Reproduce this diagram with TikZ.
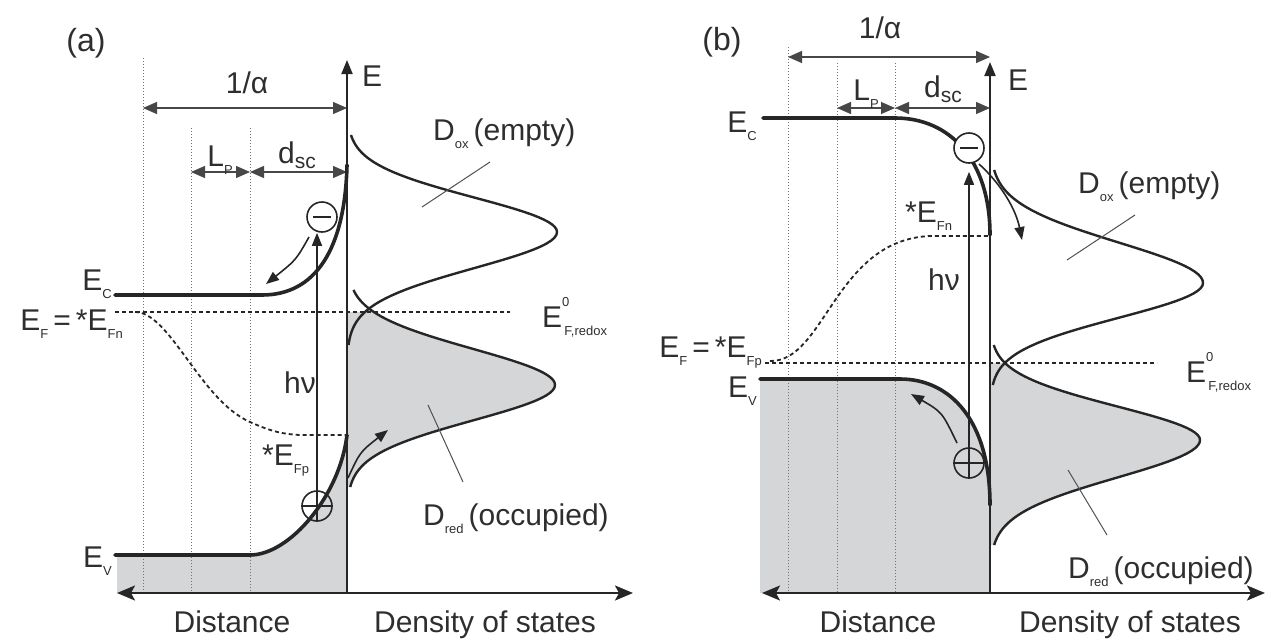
\documentclass[tikz,border=0pt]{standalone}
\usepackage{fontspec}
\setmainfont{Liberation Sans}
\usetikzlibrary{arrows.meta}
\definecolor{ink}{HTML}{262626}
\definecolor{txt}{HTML}{2E2E2E}
\definecolor{dosgray}{HTML}{D4D6D8}
\newcommand\lsub[1]{\raisebox{-0.55ex}{\fontsize{13}{13}\selectfont #1}}
\newcommand\lsup[1]{\raisebox{1.3ex}{\fontsize{13}{13}\selectfont #1}}
\tikzset{
  band/.style={line width=3.6pt, draw=ink, line cap=round},
  dos/.style={line width=2.4pt, draw=ink},
  eaxis/.style={line width=2pt, draw=ink, -{Triangle[length=14pt,width=11pt]}},
  haxis/.style={line width=2.2pt, draw=ink, {Stealth[length=18pt,width=15pt,inset=4pt]}-{Stealth[length=18pt,width=15pt,inset=4pt]}},
  dimarrow/.style={line width=1.3pt, draw=ink!85, {Triangle[length=14pt,width=12pt]}-{Triangle[length=14pt,width=12pt]}},
  guide/.style={line width=1pt, draw=ink!65, dotted},
  fermi/.style={line width=1.8pt, draw=ink, dash pattern=on 4pt off 3pt},
  lbl/.style={inner sep=0, font=\fontsize{30}{36}\selectfont, text=txt},
  charge/.style={circle, draw=ink, line width=1.6pt, minimum size=30pt, inner sep=0},
  move/.style={line width=1.6pt, draw=ink, -{Triangle[length=13pt,width=10pt]}},
  leader/.style={line width=1pt, draw=ink!80},
}
\begin{document}
\begin{tikzpicture}[x=1pt,y=-1pt]
\useasboundingbox (0,0) rectangle (1271,640);

% ================= Panel (a) =================
% shaded regions
\fill[dosgray] (117,555) -- (250,555) .. controls (290,555) and (340,495) .. (347,435) -- (347,593) -- (117,593) -- cycle;
\fill[dosgray] (347,312) -- plot[domain=312:385, samples=40, variable=\t] ({347+208*exp(-(((\t-385)/51)^2))}, \t)
  -- plot[domain=385:487, samples=40, variable=\t] ({347+208*exp(-(((\t-385)/50)^2))}, \t) -- (347,487) -- cycle;

% dotted guides
\draw[guide] (143,58) -- (143,593);
\draw[guide] (191,128) -- (191,593);
\draw[guide] (250,128) -- (250,593);

% dimension arrows
\coordinate (a-g1) at (143,108); \coordinate (a-g1e) at (347,108);
\coordinate (a-g2) at (191,172); \coordinate (a-g3) at (250,172); \coordinate (a-g4) at (347,172);
\draw[dimarrow] (a-g1) -- (a-g1e);
\draw[dimarrow] (a-g2) -- (a-g3);
\draw[dimarrow] (a-g3) -- (a-g4);

% Fermi levels
\draw[fermi] (115,312) -- (510,312);
\draw[fermi] (135,312) .. controls (170,312) and (200,400) .. (250,422) .. controls (268,430) and (280,434) .. (300,435) -- (347,435);

% axes
\coordinate (a-o) at (347,593);
\coordinate (a-l) at (117,593); \coordinate (a-r) at (633,593);
\coordinate (a-top) at (347,60);
\draw[haxis] (a-l) -- (a-r);
\draw[eaxis] (a-o) -- (a-top);

% bands
\draw[band] (115,295) -- (262,295) .. controls (315,295) and (345,250) .. (347,165);
\draw[band] (115,555) -- (250,555) .. controls (290,555) and (340,495) .. (347,435);

% DOS curves
\draw[dos] plot[domain=135:232, samples=40, variable=\t] ({347+210*exp(-(((\t-232)/48.7)^2))}, \t)
  -- plot[domain=232:345, samples=40, variable=\t] ({347+210*exp(-(((\t-232)/51)^2))}, \t);
\draw[dos] plot[domain=290:385, samples=40, variable=\t] ({347+208*exp(-(((\t-385)/51)^2))}, \t)
  -- plot[domain=385:487, samples=40, variable=\t] ({347+208*exp(-(((\t-385)/50)^2))}, \t);

% charges and transitions
\node[charge, fill=white] (a-m) at (322,217) {};
\draw[line width=2.6pt, draw=ink] (313,217) -- (331,217);
\node[charge] (a-p) at (317,506) {};
\draw[line width=1.6pt, draw=ink] (a-p.west) -- (a-p.east);
\draw[line width=1.6pt, draw=ink, -{Triangle[length=13pt,width=10pt]}] (a-p.south) -- (a-p.south |- a-m.south);
\coordinate (a-e1) at (309,237); \coordinate (a-e2) at (266,284);
\draw[move] (a-e1) .. controls (296,260) .. (a-e2);
\coordinate (a-h1) at (348,478); \coordinate (a-h2) at (388,430);
\draw[move] (a-h1) .. controls (360,452) .. (a-h2);

% leaders
\draw[leader] (422,207) -- (490,162);
\draw[leader] (428,405) -- (463,482);

% labels
\node[lbl, font=\fontsize{32}{38}\selectfont] at (86,43) {(a)};
\node[lbl, anchor=base] at (247,93) {1/α};
\node[lbl, anchor=base] at (220,166) {L\lsub{P}};
\node[lbl, anchor=base] at (297,163) {d\raisebox{-0.35ex}{\fontsize{21}{21}\selectfont sc}};
\node[lbl, anchor=base west] at (362,86) {E};
\node[lbl, anchor=base east] at (112,290) {E\lsub{C}};
\node[lbl, anchor=base east] at (123,330) {E\lsub{F}\,=\,*E\lsub{Fn}};
\node[lbl, anchor=base east] at (112,567) {E\lsub{V}};
\node[lbl, anchor=base] at (300,393) {hν};
\node[lbl, anchor=base west] at (262,465) {*E\lsub{Fp}};
\node[lbl, anchor=base west] at (433,140) {D\lsub{ox}\,(empty)};
\node[lbl, anchor=base west] at (542,327) {E\rlap{\lsup{0}}\lsub{\,F,redox}};
\node[lbl, anchor=base west] at (423,525) {D\lsub{red}\,(occupied)};
\node[lbl, anchor=base] at (232,632) {Distance};
\node[lbl, anchor=base] at (485,632) {Density of states};

% ================= Panel (b) =================
\fill[dosgray] (760,379) -- (900,379) .. controls (950,379) and (990,420) .. (990,505) -- (990,593) -- (760,593) -- cycle;
\fill[dosgray] (990,363) -- plot[domain=363:440, samples=40, variable=\t] ({990+210*exp(-(((\t-440)/47.4)^2))}, \t)
  -- plot[domain=440:545, samples=40, variable=\t] ({990+210*exp(-(((\t-440)/53)^2))}, \t) -- (990,545) -- cycle;

\draw[guide] (788,47) -- (788,593);
\draw[guide] (837,63) -- (837,593);
\draw[guide] (895,63) -- (895,593);

\coordinate (b-g1) at (788,57); \coordinate (b-g1e) at (990,57);
\coordinate (b-g2) at (837,108); \coordinate (b-g3) at (895,108); \coordinate (b-g4) at (990,108);
\draw[dimarrow] (b-g1) -- (b-g1e);
\draw[dimarrow] (b-g2) -- (b-g3);
\draw[dimarrow] (b-g3) -- (b-g4);

\draw[fermi] (765,363) -- (1157,363);
\draw[fermi] (770,361) .. controls (825,362) and (835,240) .. (930,236) -- (990,236);

\coordinate (b-o) at (990,593);
\coordinate (b-l) at (762,593); \coordinate (b-r) at (1265,593);
\coordinate (b-top) at (990,62);
\draw[haxis] (b-l) -- (b-r);
\draw[eaxis] (b-o) -- (b-top);

\draw[band] (763,118) -- (895,118) .. controls (950,118) and (990,160) .. (990,235);
\draw[band] (760,379) -- (900,379) .. controls (950,379) and (990,420) .. (990,505);

\draw[dos] plot[domain=170:283, samples=40, variable=\t] ({990+213*exp(-(((\t-283)/57)^2))}, \t)
  -- plot[domain=283:385, samples=40, variable=\t] ({990+213*exp(-(((\t-283)/49)^2))}, \t);
\draw[dos] plot[domain=345:440, samples=40, variable=\t] ({990+210*exp(-(((\t-440)/47.4)^2))}, \t)
  -- plot[domain=440:545, samples=40, variable=\t] ({990+210*exp(-(((\t-440)/53)^2))}, \t);

\node[charge, fill=white] (b-m) at (969,148) {};
\draw[line width=2.6pt, draw=ink] (960,148) -- (978,148);
\node[charge] (b-p) at (969,463) {};
\draw[line width=1.6pt, draw=ink] (b-p.west) -- (b-p.east);
\draw[line width=1.6pt, draw=ink, -{Triangle[length=13pt,width=10pt]}] (b-p.south) -- ([yshift=-8pt]b-m.south);
\coordinate (b-e1) at (979,164); \coordinate (b-e2) at (1022,240);
\draw[move] (b-e1) .. controls (1002,185) and (1016,210) .. (b-e2);
\coordinate (b-h1) at (957,443); \coordinate (b-h2) at (911,394);
\draw[move] (b-h1) .. controls (942,412) .. (b-h2);

\draw[leader] (1067,260) -- (1135,215);
\draw[leader] (1068,470) -- (1107,535);

\node[lbl, font=\fontsize{32}{38}\selectfont] at (722,42) {(b)};
\node[lbl, anchor=base] at (880,38) {1/α};
\node[lbl, anchor=base] at (866,100) {L\lsub{P}};
\node[lbl, anchor=base] at (943,97) {d\raisebox{-0.35ex}{\fontsize{21}{21}\selectfont sc}};
\node[lbl, anchor=base west] at (1008,90) {E};
\node[lbl, anchor=base east] at (757,132) {E\lsub{C}};
\node[lbl, anchor=base west] at (905,222) {*E\lsub{Fn}};
\node[lbl, anchor=base] at (944,290) {hν};
\node[lbl, anchor=base east] at (762,357) {E\lsub{F}\,=\,*E\lsub{Fp}};
\node[lbl, anchor=base east] at (757,397) {E\lsub{V}};
\node[lbl, anchor=base west] at (1078,193) {D\lsub{ox}\,(empty)};
\node[lbl, anchor=base west] at (1186,382) {E\rlap{\lsup{0}}\lsub{\,F,redox}};
\node[lbl, anchor=base west] at (1068,578) {D\lsub{red}\,(occupied)};
\node[lbl, anchor=base] at (878,632) {Distance};
\node[lbl, anchor=base] at (1130,632) {Density of states};
\end{tikzpicture}
\end{document}
